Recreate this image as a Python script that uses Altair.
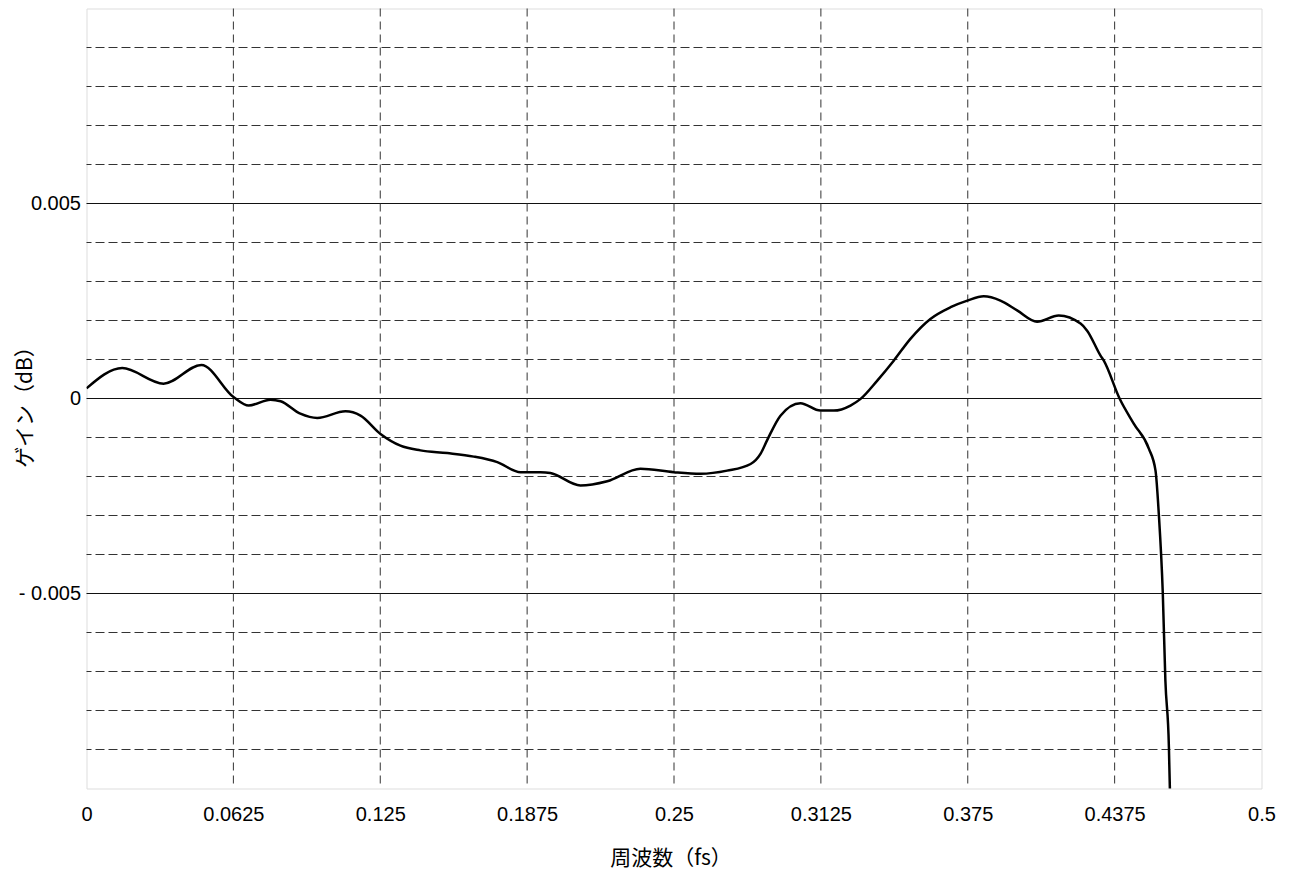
import altair as alt
import pandas as pd

# Frequency response samples
freq = [0.0, 0.0152, 0.0328, 0.0489, 0.0627, 0.069, 0.0783, 0.0826, 0.091, 0.0982,
        0.1102, 0.1166, 0.1251, 0.1336, 0.1421, 0.1535, 0.1648, 0.1748, 0.1847, 0.1932,
        0.1974, 0.2102, 0.2216, 0.2357, 0.2499, 0.2613, 0.2726, 0.2826, 0.2868, 0.2897,
        0.2953, 0.3038, 0.3123, 0.318, 0.3251, 0.3294, 0.3365, 0.3435, 0.3506, 0.3591,
        0.3677, 0.3748, 0.3818, 0.3889, 0.396, 0.4045, 0.4137, 0.423, 0.4258, 0.4315,
        0.4329, 0.4396, 0.4457, 0.4521, 0.4549, 0.4563, 0.458, 0.4591, 0.4606, 0.461, 0.4615]
gain = [0.00026, 0.00078, 0.00038, 0.00086, 0.00003, -0.00018, -0.00003, -0.00007, -0.00039, -0.0005,
        -0.00033, -0.00044, -0.00091, -0.00121, -0.00133, -0.0014, -0.00149, -0.00163, -0.00189, -0.00189,
        -0.00191, -0.00223, -0.00212, -0.0018, -0.00189, -0.00193, -0.00185, -0.00168, -0.00142, -0.00106,
        -0.00044, -0.00012, -0.00031, -0.00031, -0.00018, -0.00001, 0.00046, 0.00097, 0.00153, 0.00204,
        0.00234, 0.00251, 0.00262, 0.00251, 0.00226, 0.00197, 0.00213, 0.00192, 0.00174, 0.0011,
        0.00097, 0.0, -0.00065, -0.00129, -0.00185, -0.00296, -0.005, -0.00723, -0.00894, -0.00997, -0.0105]

x_ticks = [0, 0.0625, 0.125, 0.1875, 0.25, 0.3125, 0.375, 0.4375, 0.5]
y_ticks = [-0.005, 0, 0.005]
y_dashed = [-0.009, -0.008, -0.007, -0.006, -0.004, -0.003, -0.002, -0.001,
            0.001, 0.002, 0.003, 0.004, 0.006, 0.007, 0.008, 0.009]
x_dashed = [0.0625, 0.125, 0.1875, 0.25, 0.3125, 0.375, 0.4375]

curve = pd.DataFrame({"f": freq, "g": gain})
hgrid = pd.DataFrame({"g": y_dashed})
hsolid = pd.DataFrame({"g": y_ticks})
vgrid = pd.DataFrame({"f": x_dashed})

FONT = "Liberation Sans"
CJK = "Noto Sans CJK JP"

xscale = alt.Scale(domain=[0, 0.5], nice=False, zero=False)
yscale = alt.Scale(domain=[-0.01, 0.01], nice=False, zero=False)

xaxis = alt.Axis(values=x_ticks, labelExpr="'' + datum.value", grid=False, ticks=False,
                 domain=False, labelFontSize=20, labelFont=FONT, labelColor="#000",
                 labelPadding=16, title="周波数（fs）", titleFont=CJK, titleFontSize=21,
                 titleFontWeight="normal", titleColor="#000",
                 titleX=584, titleY=70, titleBaseline="middle", titleAlign="center",
                 labelFlush=False)
yaxis = alt.Axis(values=y_ticks,
                 labelExpr="datum.value < 0 ? '- ' + format(-datum.value, '') : format(datum.value, '')",
                 grid=False, ticks=False, domain=False, labelFontSize=20, labelFont=FONT,
                 labelColor="#000", labelPadding=6, title="ゲイン（dB）", titleFont=CJK,
                 titleFontSize=21, titleFontWeight="normal", titleColor="#000",
                 titleX=-61, titleY=393, titleAngle=270, titleBaseline="middle",
                 titleAlign="center", labelFlush=False)

hg = alt.Chart(hgrid).mark_rule(color="#333", strokeWidth=1, strokeDash=[9, 4]).encode(
    y=alt.Y("g:Q", scale=yscale, axis=yaxis))
hs = alt.Chart(hsolid).mark_rule(color="#111", strokeWidth=1).encode(
    y=alt.Y("g:Q", scale=yscale))
vg = alt.Chart(vgrid).mark_rule(color="#333", strokeWidth=1, strokeDash=[8, 5]).encode(
    x=alt.X("f:Q", scale=xscale, axis=xaxis))
line = alt.Chart(curve).mark_line(color="#000", strokeWidth=2.5, interpolate="monotone",
                                  clip=True).encode(
    x=alt.X("f:Q", scale=xscale),
    y=alt.Y("g:Q", scale=yscale))

chart = alt.layer(hg, hs, vg, line).properties(
    width=1175, height=780,
    autosize=alt.AutoSizeParams(type="none"),
    padding={"left": 78.5, "top": 0.5, "right": 22, "bottom": 84},
).configure_view(stroke="#555", strokeWidth=1.5).configure(background="white")

chart.save("out.html", embed_options={"renderer": "svg", "actions": False})
